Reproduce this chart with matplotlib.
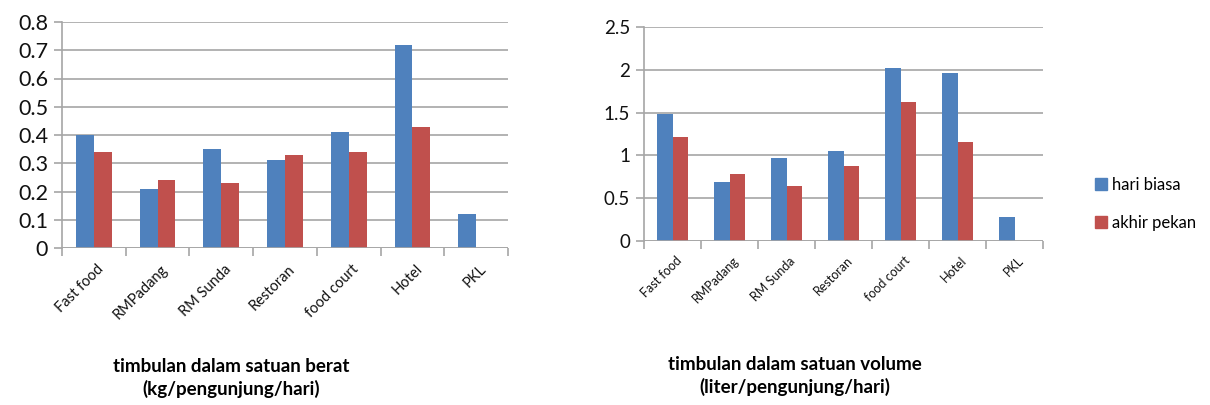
import matplotlib
matplotlib.use("Agg")
import matplotlib.pyplot as plt
from matplotlib.patches import Patch
import numpy as np

plt.rcParams['font.family'] = ['Lato', 'DejaVu Sans']

categories = ["Fast food", "RMPadang", "RM Sunda", "Restoran", "food court", "Hotel", "PKL"]
series_names = ["hari biasa", "akhir pekan"]

# kg / pengunjung / hari
berat_hari_biasa = [0.40, 0.21, 0.35, 0.31, 0.41, 0.72, 0.12]
berat_akhir_pekan = [0.34, 0.24, 0.23, 0.33, 0.34, 0.43, 0.0]

# liter / pengunjung / hari
volume_hari_biasa = [1.48, 0.69, 0.97, 1.05, 2.02, 1.96, 0.28]
volume_akhir_pekan = [1.22, 0.78, 0.64, 0.88, 1.63, 1.16, 0.0]

berat_ticks = [0, 0.1, 0.2, 0.3, 0.4, 0.5, 0.6, 0.7, 0.8]
berat_ticklabels = ["0", "0.1", "0.2", "0.3", "0.4", "0.5", "0.6", "0.7", "0.8"]
volume_ticks = [0, 0.5, 1, 1.5, 2, 2.5]
volume_ticklabels = ["0", "0.5", "1", "1.5", "2", "2.5"]

title_berat = "timbulan dalam satuan berat\n(kg/pengunjung/hari)"
title_volume = "timbulan dalam satuan volume\n(liter/pengunjung/hari)"

BLUE = "#4F81BD"
RED = "#C0504D"
GRID = "#A6A6A6"

fig = plt.figure(figsize=(12.1, 4.05), dpi=100)
ax1 = fig.add_axes([62 / 1210, 1 - 248 / 405, (508 - 62) / 1210, (248 - 22) / 405])
ax2 = fig.add_axes([644 / 1210, 1 - 240.7 / 405, (1043 - 644) / 1210, (240.7 - 27.3) / 405])


def draw(ax, a, b, ticks, ticklabels, ytick_size, xtick_size):
    x = np.arange(len(categories))
    w = 0.28
    ax.bar(x - w / 2, a, w, color=BLUE, zorder=3)
    ax.bar(x + w / 2, b, w, color=RED, zorder=3)
    ax.set_xlim(-0.5, len(categories) - 0.5)
    ax.set_ylim(ticks[0], ticks[-1])
    ax.set_yticks(ticks)
    ax.set_yticklabels(ticklabels, fontsize=ytick_size, color="#111111")
    ax.grid(axis="y", color=GRID, linewidth=1.2, zorder=0)
    for s in ["top", "right", "bottom"]:
        ax.spines[s].set_visible(False)
    ax.spines["left"].set_color(GRID)
    ax.spines["left"].set_linewidth(1.2)
    ax.axhline(0, color=GRID, linewidth=1.2, zorder=4)
    ax.tick_params(axis="y", length=6, color=GRID, width=1.2, pad=4)
    # category boundary ticks below the axis
    ax.set_xticks(np.arange(len(categories) + 1) - 0.5, minor=False)
    ax.set_xticklabels([])
    ax.tick_params(axis="x", length=6, color=GRID, width=1.2)
    for i, c in enumerate(categories):
        ax.annotate(c, xy=(i, 0), xycoords=("data", "data"),
                    xytext=(2, -10), textcoords="offset points",
                    rotation=45, ha="right", va="top", rotation_mode="anchor",
                    fontsize=xtick_size, color="#111111")


draw(ax1, berat_hari_biasa, berat_akhir_pekan, berat_ticks, berat_ticklabels, 15.5, 10.5)
draw(ax2, volume_hari_biasa, volume_akhir_pekan, volume_ticks, volume_ticklabels, 13.5, 9)

fig.text(231 / 1210, 1 - 378 / 405, title_berat, ha="center", va="center",
         fontsize=13.5, fontweight="bold", linespacing=1.35)
fig.text(795 / 1210, 1 - 376 / 405, title_volume, ha="center", va="center",
         fontsize=13.5, fontweight="bold", linespacing=1.35)

handles = [Patch(color=BLUE), Patch(color=RED)]
fig.legend(handles, series_names, loc="center left",
           bbox_to_anchor=(1080 / 1210, 1 - 204 / 405), frameon=False,
           fontsize=12, handlelength=0.7, handleheight=0.7, handletextpad=0.3,
           labelspacing=1.3)

fig.savefig("out.png", dpi=100)
